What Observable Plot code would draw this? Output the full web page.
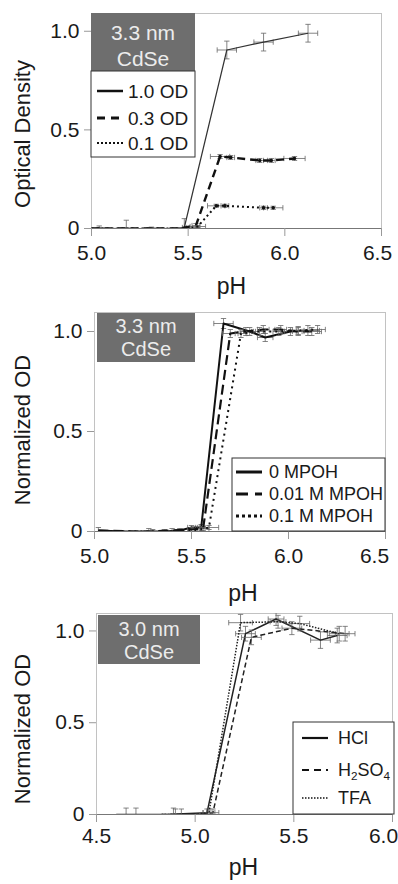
<!DOCTYPE html>
<html>
<head>
<meta charset="utf-8">
<script src="https://cdn.jsdelivr.net/npm/d3@7"></script>
<script src="https://cdn.jsdelivr.net/npm/@observablehq/plot@0.6"></script>
<style>
  body { margin: 0; background: #fff; width: 398px; }
  svg { display: block; }
</style>
</head>
<body>
<div id="chart"></div>
<script>
// ---------- Panel A: 3.3 nm CdSe, optical density ----------
const a_xTicks = [5.0, 5.5, 6.0, 6.5];
const a_yTicks = [0, 0.5, 1.0];
const a_tag = ["3.3 nm", "CdSe"];
const a_names = ["1.0 OD", "0.3 OD", "0.1 OD"];
const od10_pH   = [5.00, 5.04, 5.10, 5.18, 5.25, 5.31, 5.40, 5.48, 5.70, 5.89, 6.12];
const od10_val  = [0, 0.003, 0, 0.002, 0, 0.002, 0, 0.005, 0.905, 0.945, 0.99];
const od10_xErr = [0, 0, 0, 0, 0, 0, 0, 0.01, 0.05, 0.05, 0.05];
const od10_yErr = [0, 0.01, 0, 0.04, 0, 0.005, 0, 0.045, 0.045, 0.045, 0.045];
const od03_pH   = [5.00, 5.10, 5.22, 5.35, 5.45, 5.54, 5.665, 5.72, 5.87, 5.93, 6.05];
const od03_val  = [0, 0, 0, 0, 0, 0.015, 0.365, 0.36, 0.345, 0.345, 0.355];
const od03_xErr = [0, 0, 0, 0, 0, 0.02, 0.05, 0.02, 0.02, 0.02, 0.055];
const od03_yErr = [0, 0, 0, 0, 0, 0.01, 0.01, 0.01, 0.01, 0.01, 0.01];
const od01_pH   = [5.00, 5.12, 5.25, 5.40, 5.50, 5.55, 5.645, 5.69, 5.89, 5.94];
const od01_val  = [0, 0, 0, 0, 0, 0.01, 0.115, 0.115, 0.105, 0.105];
const od01_xErr = [0, 0, 0, 0, 0, 0.04, 0.045, 0.02, 0.02, 0.05];
const od01_yErr = [0, 0, 0, 0, 0, 0.005, 0.008, 0.008, 0.008, 0.008];

// ---------- Panel B: 3.3 nm CdSe, MPOH ----------
const b_xTicks = [5.0, 5.5, 6.0, 6.5];
const b_yTicks = [0, 0.5, 1.0];
const b_tag = ["3.3 nm", "CdSe"];
const b_names = ["0 MPOH", "0.01 M MPOH", "0.1 M MPOH"];
const m0_pH     = [5.02, 5.15, 5.28, 5.36, 5.44, 5.50, 5.55, 5.665, 5.80, 5.88, 6.01, 6.10];
const m0_val    = [0.005, 0, 0, 0, 0.005, 0.02, 0.02, 1.04, 1.0, 0.97, 1.0, 1.005];
const m0_xErr   = [0, 0, 0, 0, 0, 0.02, 0.02, 0.05, 0.03, 0.04, 0.03, 0.06];
const m0_yErr   = [0.015, 0, 0.015, 0.01, 0.01, 0.01, 0.015, 0.025, 0.02, 0.02, 0.02, 0.025];
const m001_pH   = [5.02, 5.20, 5.30, 5.40, 5.50, 5.56, 5.70, 5.78, 5.87, 5.96, 6.05, 6.12];
const m001_val  = [0.005, 0, 0, 0.005, 0.01, 0.015, 0.99, 1.0, 1.01, 1.01, 1.0, 1.0];
const m001_xErr = [0, 0, 0, 0, 0.02, 0.03, 0.04, 0.03, 0.03, 0.03, 0.03, 0.05];
const m001_yErr = [0, 0, 0.01, 0.01, 0.01, 0.01, 0.02, 0.02, 0.02, 0.02, 0.02, 0.02];
const m01_pH    = [5.02, 5.25, 5.40, 5.52, 5.59, 5.755, 5.85, 5.95, 6.05, 6.15];
const m01_val   = [0, 0, 0, 0.005, 0.02, 0.99, 1.0, 1.0, 1.005, 1.01];
const m01_xErr  = [0, 0, 0, 0, 0.05, 0.03, 0.03, 0.03, 0.03, 0.04];
const m01_yErr  = [0, 0, 0, 0, 0.01, 0.02, 0.02, 0.02, 0.02, 0.02];

// ---------- Panel C: 3.0 nm CdSe, acids ----------
const c_xTicks = [4.5, 5.0, 5.5, 6.0];
const c_yTicks = [0, 0.5, 1.0];
const c_tag = ["3.0 nm", "CdSe"];
const c_names = ["HCl", "H2SO4", "TFA"];
const hcl_pH     = [4.60, 4.65, 4.70, 4.85, 5.06, 5.255, 5.41, 5.635, 5.72];
const hcl_val    = [0, 0, 0, 0, 0.01, 0.985, 1.065, 0.95, 0.975];
const hcl_xErr   = [0, 0, 0, 0, 0.02, 0.05, 0.04, 0.05, 0.05];
const hcl_yErr   = [0, 0.035, 0.035, 0, 0.02, 0.04, 0.035, 0.045, 0.04];
const h2so4_pH   = [4.83, 4.89, 4.93, 5.00, 5.09, 5.285, 5.49, 5.76];
const h2so4_val  = [0, 0, 0, 0, 0.01, 0.965, 1.015, 0.985];
const h2so4_xErr = [0, 0, 0, 0, 0.03, 0.05, 0.05, 0.05];
const h2so4_yErr = [0, 0.035, 0.03, 0, 0.02, 0.04, 0.035, 0.04];
const tfa_pH     = [4.83, 4.90, 5.00, 5.07, 5.23, 5.42, 5.53, 5.73];
const tfa_val    = [0, 0, 0, 0.01, 1.045, 1.05, 1.04, 0.985];
const tfa_xErr   = [0, 0, 0, 0.03, 0.06, 0.04, 0.05, 0.05];
const tfa_yErr   = [0, 0.03, 0, 0.02, 0.045, 0.035, 0.04, 0.04];

// ---------- rendering ----------
const FONT = '"Liberation Sans", Arial, Helvetica, sans-serif';
const INK = "#1a1a1a";
const ERR = "#666";

const hCap = {draw(ctx, size) { const r = Math.sqrt(size); ctx.moveTo(-r, 0); ctx.lineTo(r, 0); }};
const vCap = {draw(ctx, size) { const r = Math.sqrt(size); ctx.moveTo(0, -r); ctx.lineTo(0, r); }};

function rowsOf(pH, val, xErr, yErr) {
  return pH.map((x, i) => ({x, y: val[i], ex: xErr[i], ey: yErr[i]}));
}

function errMarks(rows) {
  const ye = rows.filter(d => d.ey > 0), xe = rows.filter(d => d.ex > 0);
  const st = {stroke: ERR, strokeWidth: 0.8, clip: true};
  const cap = {...st, fill: "none", r: 1.5};
  return [
    Plot.link(ye, {x1: "x", x2: "x", y1: d => d.y - d.ey, y2: d => d.y + d.ey, ...st}),
    Plot.dot(ye, {x: "x", y: d => d.y + d.ey, symbol: hCap, ...cap}),
    Plot.dot(ye, {x: "x", y: d => d.y - d.ey, symbol: hCap, ...cap}),
    Plot.link(xe, {x1: d => d.x - d.ex, x2: d => d.x + d.ex, y1: "y", y2: "y", ...st}),
    Plot.dot(xe, {x: d => d.x - d.ex, y: "y", symbol: vCap, ...cap}),
    Plot.dot(xe, {x: d => d.x + d.ex, y: "y", symbol: vCap, ...cap})
  ];
}

function panel(cfg) {
  const fmtX = d => d.toFixed(1);
  const lastTick = cfg.xTicks[cfg.xTicks.length - 1];
  const marks = [
    Plot.frame({stroke: "#c2c2c2"}),
    Plot.ruleY([0], {stroke: "#777", strokeWidth: 1}),
    Plot.axisX({ticks: cfg.xTicks, tickFormat: () => "", tickSize: 8, stroke: "#999", label: null}),
    Plot.text(cfg.xTicks.slice(0, -1), {x: d => d, text: fmtX, frameAnchor: "bottom", lineAnchor: "top",
      dy: 8 + cfg.xPad, fontSize: 21, fill: INK}),
    Plot.text([lastTick], {x: d => d, text: fmtX, frameAnchor: "bottom", lineAnchor: "top",
      dy: 8 + cfg.xPad, dx: cfg.lastDx, fontSize: 21, fill: INK}),
    Plot.axisY({ticks: cfg.yTicks, tickFormat: d => d === 0 ? "0" : d.toFixed(1), tickSize: 7, tickPadding: 5,
      fontSize: 21, stroke: "#999", fill: INK, label: null}),
    Plot.text([cfg.yLabel], {text: d => d, frameAnchor: "left", textAnchor: "middle", lineAnchor: "middle",
      dx: -(cfg.mL - 22), dy: cfg.yLabelDy, rotate: -90, fontSize: 22, fill: INK}),
    Plot.text(["pH"], {text: d => d, frameAnchor: "bottom", textAnchor: "middle", lineAnchor: "middle",
      dx: cfg.xLabelDx, dy: cfg.xLabelDy, fontSize: 23, fill: INK})
  ];
  for (const s of cfg.series) {
    marks.push(...errMarks(s.rows));
    marks.push(Plot.line(s.rows, {x: "x", y: "y", stroke: s.stroke, strokeWidth: s.width,
      strokeDasharray: s.dash, strokeLinecap: "butt", clip: true}));
    if (s.dots) marks.push(Plot.dot(s.rows.filter(d => d.y > 0.05), {x: "x", y: "y", r: 1.8, fill: s.stroke}));
  }
  const svg = Plot.plot({
    width: 398, height: cfg.height,
    marginLeft: cfg.mL, marginRight: cfg.mR, marginTop: cfg.mT, marginBottom: cfg.mB,
    x: {domain: cfg.xDomain},
    y: {domain: cfg.yDomain},
    style: {fontFamily: FONT, background: "white", color: INK, overflow: "visible"},
    marks
  });
  const g = d3.select(svg).append("g").attr("font-family", FONT).attr("text-anchor", "start");
  // grey sample tag
  const t = cfg.tag;
  g.append("rect").attr("x", t.x).attr("y", t.y).attr("width", t.w).attr("height", t.h).attr("fill", "#6e6e6e");
  t.lines.forEach((txt, i) => g.append("text").attr("x", t.x + t.w / 2).attr("y", t.base[i])
    .attr("text-anchor", "middle").attr("font-size", t.size).attr("fill", "#ececec").text(txt));
  // legend
  const L = cfg.legend;
  g.append("rect").attr("x", L.x).attr("y", L.y).attr("width", L.w).attr("height", L.h)
    .attr("fill", "white").attr("stroke", "#333").attr("stroke-width", 1);
  cfg.series.forEach((s, i) => {
    const cy = L.rows[i];
    g.append("line").attr("x1", L.lx1).attr("x2", L.lx2).attr("y1", cy).attr("y2", cy)
      .attr("stroke", "#111").attr("stroke-width", s.lw).attr("stroke-dasharray", s.ldash || null);
    const tx = g.append("text").attr("x", L.tx).attr("y", cy + L.size * 0.36)
      .attr("text-anchor", "start").attr("font-size", L.size).attr("fill", INK);
    if (s.name === "H2SO4") {
      tx.append("tspan").text("H");
      tx.append("tspan").attr("font-size", L.size * 0.65).attr("dy", 4).text("2");
      tx.append("tspan").attr("dy", -4).text("SO");
      tx.append("tspan").attr("font-size", L.size * 0.65).attr("dy", 4).text("4");
    } else tx.text(s.name);
  });
  return svg;
}

const root = document.getElementById("chart");

root.append(panel({
  height: 300, mL: 91, mR: 17, mT: 13, mB: 72, xPad: 9, lastDx: -4, xLabelDx: -5, xLabelDy: 58, yLabelDy: 13,
  xDomain: [5.0, 6.5], yDomain: [0, 1.09], xTicks: a_xTicks, yTicks: a_yTicks, yLabel: "Optical Density",
  tag: {x: 91, y: 13, w: 104, h: 58, lines: a_tag, base: [40, 66], size: 21},
  legend: {x: 91, y: 71, w: 104, h: 86, rows: [91, 118, 143], lx1: 97, lx2: 123, tx: 128, size: 19},
  series: [
    {name: a_names[0], rows: rowsOf(od10_pH, od10_val, od10_xErr, od10_yErr), stroke: "#333", width: 1.2, dash: null, lw: 2.5, ldash: null},
    {name: a_names[1], rows: rowsOf(od03_pH, od03_val, od03_xErr, od03_yErr), stroke: "#111", width: 2.4, dash: "8,5", lw: 3, ldash: "8,6", dots: true},
    {name: a_names[2], rows: rowsOf(od01_pH, od01_val, od01_xErr, od01_yErr), stroke: "#111", width: 2, dash: "2,3", lw: 2, ldash: "2,2", dots: true}
  ]
}));

root.append(panel({
  height: 300, mL: 94, mR: 13, mT: 12, mB: 69, xPad: 9, lastDx: -11, xLabelDx: 3, xLabelDy: 62, yLabelDy: 8,
  xDomain: [5.0, 6.5], yDomain: [0, 1.095], xTicks: b_xTicks, yTicks: b_yTicks, yLabel: "Normalized OD",
  tag: {x: 97, y: 13, w: 98, h: 49, lines: b_tag, base: [33, 56], size: 20},
  legend: {x: 232, y: 158, w: 153, h: 73, rows: [172, 194, 216], lx1: 236, lx2: 262, tx: 269, size: 18},
  series: [
    {name: b_names[0], rows: rowsOf(m0_pH, m0_val, m0_xErr, m0_yErr), stroke: "#111", width: 2, dash: null, lw: 3, ldash: null},
    {name: b_names[1], rows: rowsOf(m001_pH, m001_val, m001_xErr, m001_yErr), stroke: "#111", width: 2.2, dash: "10,5", lw: 3, ldash: "12,7"},
    {name: b_names[2], rows: rowsOf(m01_pH, m01_val, m01_xErr, m01_yErr), stroke: "#111", width: 2, dash: "2,4", lw: 3, ldash: "3,3"}
  ]
}));

root.append(panel({
  height: 284, mL: 96, mR: 6, mT: 13, mB: 70, xPad: 6, lastDx: -9, xLabelDx: -1, xLabelDy: 53, yLabelDy: 15,
  xDomain: [4.5, 6.0], yDomain: [0, 1.095], xTicks: c_xTicks, yTicks: c_yTicks, yLabel: "Normalized OD",
  tag: {x: 98, y: 15, w: 102, h: 49, lines: c_tag, base: [36, 59], size: 20},
  legend: {x: 293, y: 122, w: 101, h: 92, rows: [138, 170, 198], lx1: 302, lx2: 328, tx: 338, size: 18},
  series: [
    {name: c_names[0], rows: rowsOf(hcl_pH, hcl_val, hcl_xErr, hcl_yErr), stroke: "#222", width: 1.5, dash: null, lw: 2.2, ldash: null},
    {name: c_names[1], rows: rowsOf(h2so4_pH, h2so4_val, h2so4_xErr, h2so4_yErr), stroke: "#222", width: 1.5, dash: "5,3", lw: 2.2, ldash: "7,5"},
    {name: c_names[2], rows: rowsOf(tfa_pH, tfa_val, tfa_xErr, tfa_yErr), stroke: "#222", width: 1.5, dash: "1.5,1.5", lw: 1.5, ldash: "1.5,1.5"}
  ]
}));
</script>
</body>
</html>
